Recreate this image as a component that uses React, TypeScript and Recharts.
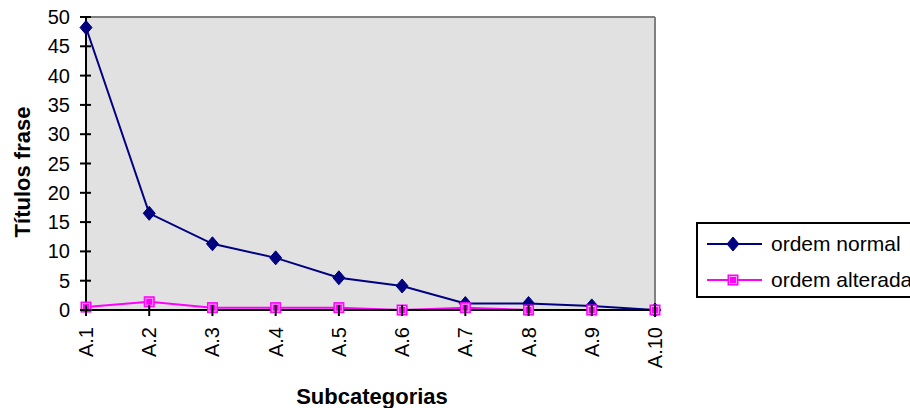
import React from 'react';
import { LineChart, Line, XAxis, YAxis, CartesianGrid, ReferenceLine, Label } from 'recharts';

const categories = ['A.1', 'A.2', 'A.3', 'A.4', 'A.5', 'A.6', 'A.7', 'A.8', 'A.9', 'A.10'];
const ordemNormal = [48.2, 16.5, 11.3, 8.9, 5.5, 4.1, 1.1, 1.1, 0.7, 0];
const ordemAlterada = [0.5, 1.4, 0.4, 0.4, 0.4, 0, 0.4, 0, 0, 0];
const yTicks = [0, 5, 10, 15, 20, 25, 30, 35, 40, 45, 50];
const seriesNames = ['ordem normal', 'ordem alterada'];

const data = categories.map((c, i) => ({ cat: c, normal: ordemNormal[i], alterada: ordemAlterada[i] }));

const W = 910;
const H = 408;
const M = { top: 17, right: 255, left: 26, bottom: 38 };
const Y_AXIS_W = 60;
const X_AXIS_H = 60;
const AXIS_X = M.left + Y_AXIS_W;
const AXIS_Y = H - M.bottom - X_AXIS_H;
const FONT = '"Liberation Sans", Arial, sans-serif';
const NAVY = '#000080';
const MAGENTA = '#FF00FF';

const YTick = (props: any) => {
  const { y, payload } = props;
  return (
    <g>
      <line x1={AXIS_X - 6} x2={AXIS_X + 5} y1={y} y2={y} stroke="#000" strokeWidth={2} />
      <text x={AXIS_X - 16} y={y} dy="0.35em" textAnchor="end" fontSize={20} fontFamily={FONT} fill="#000">
        {payload.value}
      </text>
    </g>
  );
};

const XTick = (props: any) => {
  const { x, payload } = props;
  const ty = AXIS_Y + 17;
  return (
    <g>
      <line x1={x} x2={x} y1={AXIS_Y - 5} y2={AXIS_Y + 6} stroke="#000" strokeWidth={2} />
      <text x={x} y={ty} dy="0.35em" textAnchor="end" transform={`rotate(-90, ${x}, ${ty})`} fontSize={20} fontFamily={FONT} fill="#000">
        {payload.value}
      </text>
    </g>
  );
};

const Diamond = (props: any) => {
  const { cx, cy, index } = props;
  if (cx == null || cy == null) return <g key={`dn-${index}`} />;
  return (
    <polygon
      key={`d-${index}`}
      points={`${cx},${cy - 7} ${cx + 6},${cy} ${cx},${cy + 7} ${cx - 6},${cy}`}
      fill={NAVY}
      stroke={NAVY}
    />
  );
};

const Square = (props: any) => {
  const { cx, cy, index } = props;
  if (cx == null || cy == null) return <g key={`sn-${index}`} />;
  return (
    <g key={`s-${index}`}>
      <rect x={cx - 5} y={cy - 5} width={10} height={10} fill={MAGENTA} stroke={MAGENTA} strokeWidth={1} />
      <rect x={cx - 3.5} y={cy - 3.5} width={7} height={7} fill="none" stroke="#ff9cff" strokeWidth={1} />
    </g>
  );
};

const LegendBox = () => (
  <div
    style={{
      position: 'absolute',
      left: 696,
      top: 222,
      border: '2px solid #000',
      background: '#fff',
      width: 230,
      height: 72,
      boxSizing: 'content-box',
      fontFamily: FONT,
      fontSize: 21,
      color: '#000',
    }}
  >
    {[
      { name: seriesNames[0], color: NAVY, shape: 'diamond' },
      { name: seriesNames[1], color: MAGENTA, shape: 'square' },
    ].map((item, i) => (
      <div key={i} style={{ display: 'flex', alignItems: 'center', height: 36, marginTop: i === 0 ? 2 : 0 }}>
        <svg width={73} height={36} style={{ display: 'block', flex: 'none' }}>
          <line x1={9} x2={64} y1={18} y2={18} stroke={item.color} strokeWidth={2} />
          {item.shape === 'diamond' ? (
            <polygon points="35,11 41,18 35,25 29,18" fill={NAVY} stroke={NAVY} />
          ) : (
            <g>
              <rect x={30} y={13} width={10} height={10} fill={MAGENTA} stroke={MAGENTA} />
              <rect x={31.5} y={14.5} width={7} height={7} fill="none" stroke="#ff9cff" />
            </g>
          )}
        </svg>
        <span style={{ whiteSpace: 'nowrap' }}>{item.name}</span>
      </div>
    ))}
  </div>
);

export default function App() {
  return (
    <div style={{ position: 'absolute', left: 0, top: 0, width: W, height: H, overflow: 'hidden', background: '#fff' }}>
      <LineChart width={W} height={H} data={data} margin={M}>
        <CartesianGrid fill="#e1e1e1" horizontal={false} vertical={false} />
        <ReferenceLine y={50} stroke="#808080" strokeWidth={2} />
        <ReferenceLine x="A.10" stroke="#808080" strokeWidth={2} />
        <XAxis
          dataKey="cat"
          interval={0}
          height={X_AXIS_H}
          tick={<XTick />}
          tickLine={false}
          axisLine={{ stroke: '#000', strokeWidth: 2 }}
        >
          <Label
            content={() => (
              <text x={372} y={396} dy="0.35em" textAnchor="middle" fontSize={22} fontWeight="bold" fontFamily={FONT} fill="#000">
                Subcategorias
              </text>
            )}
          />
        </XAxis>
        <YAxis
          domain={[0, 50]}
          ticks={yTicks}
          interval={0}
          width={Y_AXIS_W}
          tick={<YTick />}
          tickLine={false}
          axisLine={{ stroke: '#000', strokeWidth: 2 }}
        >
          <Label
            content={() => (
              <text x={22} y={172} dy="0.35em" textAnchor="middle" transform="rotate(-90, 22, 172)" fontSize={22} fontWeight="bold" fontFamily={FONT} fill="#000">
                Títulos frase
              </text>
            )}
          />
        </YAxis>
        <Line
          type="linear"
          dataKey="normal"
          name={seriesNames[0]}
          stroke={NAVY}
          strokeWidth={2}
          dot={Diamond}
          activeDot={false}
          isAnimationActive={false}
        />
        <Line
          type="linear"
          dataKey="alterada"
          name={seriesNames[1]}
          stroke={MAGENTA}
          strokeWidth={2}
          dot={Square}
          activeDot={false}
          isAnimationActive={false}
        />
      </LineChart>
      <LegendBox />
    </div>
  );
}
